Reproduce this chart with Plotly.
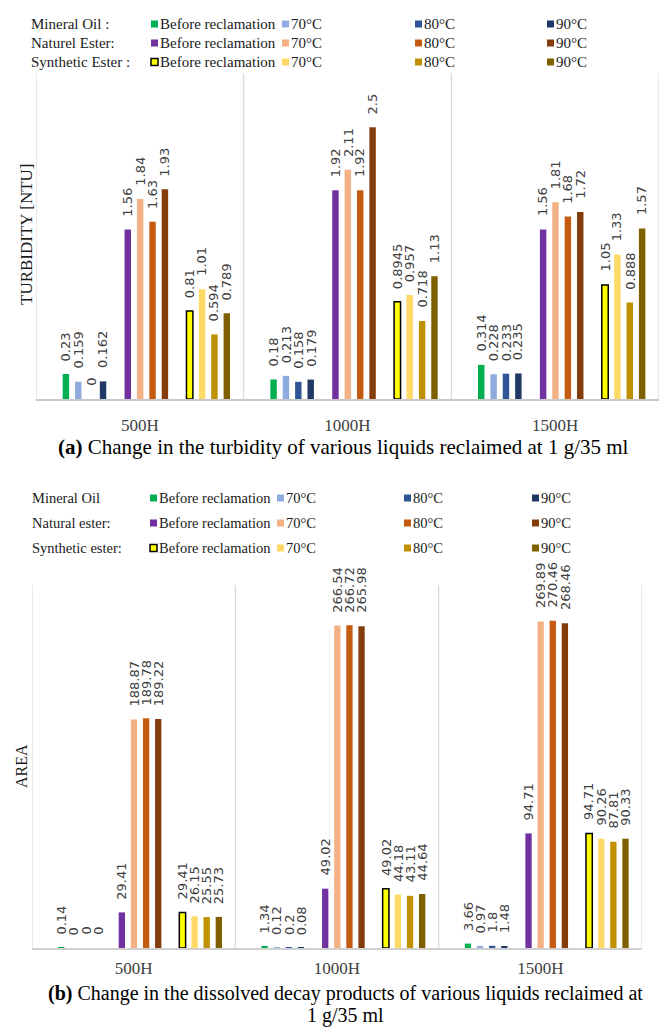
import plotly.graph_objects as go

# ---------------- data ----------------
periods = ["500H", "1000H", "1500H"]
conditions = ["Before reclamation", "70°C", "80°C", "90°C"]

# Turbidity [NTU]
turb_mineral_before = [0.23, 0.18, 0.314]
turb_mineral_70 = [0.159, 0.213, 0.228]
turb_mineral_80 = [0, 0.158, 0.233]
turb_mineral_90 = [0.162, 0.179, 0.235]
turb_natural_before = [1.56, 1.92, 1.56]
turb_natural_70 = [1.84, 2.11, 1.81]
turb_natural_80 = [1.63, 1.92, 1.68]
turb_natural_90 = [1.93, 2.5, 1.72]
turb_synth_before = [0.81, 0.8945, 1.05]
turb_synth_70 = [1.01, 0.957, 1.33]
turb_synth_80 = [0.594, 0.718, 0.888]
turb_synth_90 = [0.789, 1.13, 1.57]

# Dissolved decay products (AREA)
area_mineral_before = [0.14, 1.34, 3.66]
area_mineral_70 = [0, 0.12, 0.97]
area_mineral_80 = [0, 0.2, 1.8]
area_mineral_90 = [0, 0.08, 1.48]
area_natural_before = [29.41, 49.02, 94.71]
area_natural_70 = [188.87, 266.54, 269.89]
area_natural_80 = [189.78, 266.72, 270.46]
area_natural_90 = [189.22, 265.98, 268.46]
area_synth_before = [29.41, 49.02, 94.71]
area_synth_70 = [26.15, 44.18, 90.26]
area_synth_80 = [25.55, 43.11, 87.81]
area_synth_90 = [25.73, 44.64, 90.33]

# ---------------- styling ----------------
W, H = 659, 1027
SERIF = "Liberation Serif"
SANS = "DejaVu Sans"
LABEL_COLOR = "#404040"
GRID = "#D9D9D9"

colors = {
    "mineral": ["#00B050", "#8FAADC", "#2F5597", "#203864"],
    "natural": ["#7030A0", "#F4B183", "#C55A11", "#843C0C"],
    "synth": ["#FFFF00", "#FFD966", "#BF9000", "#7F6000"],
}

turb = {
    "mineral": [turb_mineral_before, turb_mineral_70, turb_mineral_80, turb_mineral_90],
    "natural": [turb_natural_before, turb_natural_70, turb_natural_80, turb_natural_90],
    "synth": [turb_synth_before, turb_synth_70, turb_synth_80, turb_synth_90],
}
area = {
    "mineral": [area_mineral_before, area_mineral_70, area_mineral_80, area_mineral_90],
    "natural": [area_natural_before, area_natural_70, area_natural_80, area_natural_90],
    "synth": [area_synth_before, area_synth_70, area_synth_80, area_synth_90],
}

BAR_W = 0.031
SLOT_PITCH = 0.0596
FIRST_SLOT = -0.356
group_start_slot = {"mineral": 0, "natural": 5, "synth": 10}


def px_x(x):
    return x / W


def px_y(y):
    return 1 - y / H


fig = go.Figure()
annotations = []
shapes = []


def add_chart(data, xa, ya, label_shift):
    for liquid in ["mineral", "natural", "synth"]:
        for j, cond in enumerate(conditions):
            vals = data[liquid][j]
            center = FIRST_SLOT + (group_start_slot[liquid] + j) * SLOT_PITCH
            outlined = liquid == "synth" and j == 0
            fig.add_trace(go.Bar(
                x=periods, y=vals,
                width=BAR_W, offset=center - BAR_W / 2,
                marker=dict(color=colors[liquid][j],
                            line=dict(color="#000000" if outlined else "rgba(0,0,0,0)",
                                      width=1.5 if outlined else 0)),
                xaxis=xa, yaxis=ya, showlegend=False, name=f"{liquid} {cond}",
            ))
            for i, v in enumerate(vals):
                annotations.append(dict(
                    x=i + center, y=v, xref=xa, yref=ya,
                    text=f"{v:g}", showarrow=False, textangle=-90,
                    xanchor="center", yanchor="bottom", yshift=label_shift,
                    font=dict(family=SANS, size=13, color=LABEL_COLOR),
                ))
    # category separators
    for b in range(4):
        shapes.append(dict(type="line", xref=xa, yref=f"{ya} domain",
                           x0=b - 0.5, x1=b - 0.5, y0=0, y1=1,
                           line=dict(color=GRID, width=1.2), layer="below"))


add_chart(turb, "x", "y", 11)
add_chart(area, "x2", "y2", 11)

axis_common = dict(type="category", showticklabels=True, ticks="", showgrid=False,
                   zeroline=False, range=[-0.5, 2.5], fixedrange=True,
                   tickfont=dict(family=SERIF, size=17, color="#404040"))
fig.update_layout(
    xaxis=dict(domain=[px_x(36), 1.0], anchor="y", showline=True,
               linecolor="#C8C8C8", linewidth=1.5, ticklabelstandoff=10, **axis_common),
    yaxis=dict(domain=[px_y(399), px_y(73)], anchor="x", range=[0, 3],
               showticklabels=False, showgrid=False, zeroline=False, ticks="", fixedrange=True),
    xaxis2=dict(domain=[px_x(32), px_x(642)], anchor="y2", showline=True,
                linecolor="#D0D0D0", linewidth=1.5, ticklabelstandoff=4, **axis_common),
    yaxis2=dict(domain=[px_y(948), px_y(585)], anchor="x2", range=[0, 300],
                showticklabels=False, showgrid=False, zeroline=False, ticks="", fixedrange=True),
)


def text(x, y, s, size, anchor="left", color="#1a1a1a", family=SERIF, angle=0):
    annotations.append(dict(
        x=px_x(x), y=px_y(y), xref="paper", yref="paper", text=s, showarrow=False,
        xanchor=anchor, yanchor="middle", textangle=angle,
        font=dict(family=family, size=size, color=color),
    ))


def legend(rows_y, row_labels, label_x, square_x, font_size, square_size=7):
    keys = ["mineral", "natural", "synth"]
    for r, key in enumerate(keys):
        y = rows_y[r]
        text(label_x, y, row_labels[r], font_size)
        for j, cond in enumerate(conditions):
            sx = square_x[j]
            outlined = key == "synth" and j == 0
            shapes.append(dict(
                type="rect", xref="paper", yref="paper",
                x0=px_x(sx), x1=px_x(sx + square_size),
                y0=px_y(y + square_size / 2), y1=px_y(y - square_size / 2),
                fillcolor=colors[key][j],
                line=dict(color="#000000" if outlined else colors[key][j],
                          width=1.5 if outlined else 0),
            ))
            text(sx + square_size, y, cond, font_size)


# legends
legend([24, 43, 62], ["Mineral Oil :", "Naturel Ester:", "Synthetic Ester :"],
       29, [151, 282, 415, 547], 15)
legend([498, 523, 548], ["Mineral Oil", "Natural ester:", "Synthetic ester:"],
       30, [150, 277, 404, 532], 14.5)

# axis titles
text(27, 235, "TURBIDITY [NTU]", 17, anchor="center", angle=-90)
text(21, 766, "AREA", 16, anchor="center", angle=-90)

# captions
text(343, 447, "<b>(a)</b> Change in the turbidity of various liquids reclaimed at 1 g/35 ml",
     21, anchor="center", color="#000000")
text(46, 993, "<b>(b)</b> Change in the dissolved decay products of various liquids reclaimed at",
     20, anchor="left", color="#000000")
text(345, 1015, "1 g/35 ml", 20, anchor="center", color="#000000")

fig.update_layout(
    width=W, height=H, margin=dict(l=0, r=0, t=0, b=0),
    paper_bgcolor="white", plot_bgcolor="white",
    barmode="overlay", showlegend=False,
    annotations=annotations, shapes=shapes,
)

fig.write_html("out.html")
